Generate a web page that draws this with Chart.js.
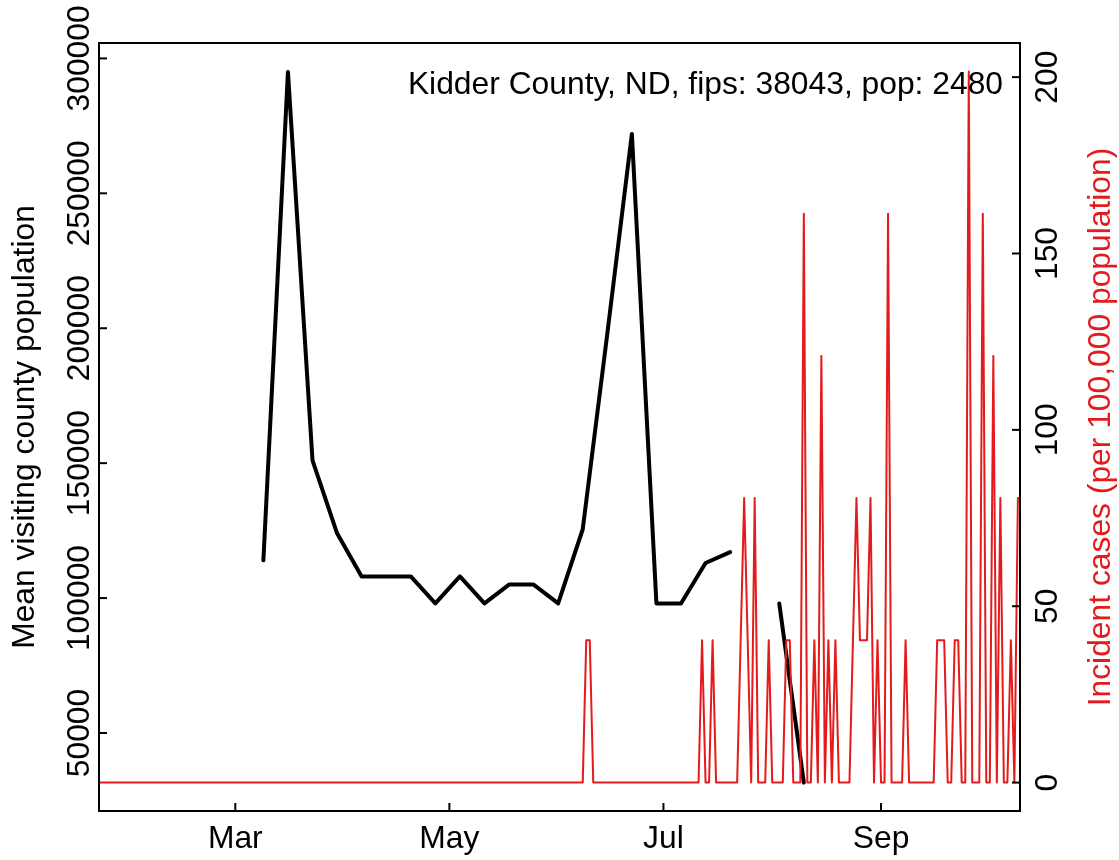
<!DOCTYPE html>
<html><head><meta charset="utf-8">
<script src="https://cdn.jsdelivr.net/npm/chart.js@4/dist/chart.umd.min.js"></script>
<style>html,body{margin:0;padding:0;background:#fff}canvas{display:block}</style>
</head><body>
<canvas id="c" width="1119" height="860" style="width:1119px;height:860px"></canvas>
<script>
// x values are days counted from 1 Jan 2020 (= day 0)
const mobilityDays = [68,75,82,89,96,103,110,117,124,131,138,145,152,159,166,173,180,187,194,201,208,215,222];
const mobilityValues = [114000,295000,151000,124000,108000,108000,108000,98000,108000,98000,105000,105000,98000,125500,198000,272000,98000,98000,113000,117000,null,98000,31600];

// daily incident cases per 100,000 population, one value per day starting at caseStartDay
const caseStartDay = 21;
const caseValues = [
  // days 21-158
  0,0,0,0,0,0,0,0,0,0,0,0,0,0,0,0,0,0,0,0,
  0,0,0,0,0,0,0,0,0,0,0,0,0,0,0,0,0,0,0,0,
  0,0,0,0,0,0,0,0,0,0,0,0,0,0,0,0,0,0,0,0,
  0,0,0,0,0,0,0,0,0,0,0,0,0,0,0,0,0,0,0,0,
  0,0,0,0,0,0,0,0,0,0,0,0,0,0,0,0,0,0,0,0,
  0,0,0,0,0,0,0,0,0,0,0,0,0,0,0,0,0,0,0,0,
  0,0,0,0,0,0,0,0,0,0,0,0,0,0,0,0,0,0,
  // days 159-161
  0,40.32,40.32,
  // days 162-192
  0,0,0,0,0,0,0,0,0,0,0,0,0,0,0,0,0,0,0,0,0,0,0,0,0,0,0,0,0,0,0,
  // days 193-196
  40.32,0,0,40.32,
  // days 197-203
  0,0,0,0,0,0,0,
  // days 204-213
  40.32,80.65,40.32,0,80.65,0,0,0,40.32,0,
  // days 214-223
  0,0,0,40.32,40.32,0,0,0,161.29,0,
  // days 224-233
  0,40.32,0,120.97,0,40.32,0,40.32,0,0,
  // days 234-243
  0,0,40.32,80.65,40.32,40.32,40.32,80.65,0,40.32,
  // days 244-253
  0,0,161.29,0,0,0,0,40.32,0,0,
  // days 254-263
  0,0,0,0,0,0,40.32,40.32,40.32,0,
  // days 264-273
  0,40.32,40.32,0,0,201.61,0,0,0,161.29,
  // days 274-284
  0,0,120.97,0,80.65,0,0,40.32,0,80.65,80.65
];

const monthTickDays = [60,121,182,244];
const monthTickLabels = ['Mar','May','Jul','Sep'];
const leftTicks = [50000,100000,150000,200000,250000,300000];
const rightTicks = [0,50,100,150,200];
const titleText = 'Kidder County, ND, fips: 38043, pop: 2480';
const leftTitle = 'Mean visiting county population';
const rightTitle = 'Incident cases (per 100,000 population)';

const RED = '#E41A1C';
const FONT = '31.8px "Liberation Sans", Arial, Helvetica, sans-serif';

const axesPlugin = {
  id: 'rAxes',
  afterDraw(chart) {
    const ctx = chart.ctx;
    const ca = chart.chartArea;
    const xs = chart.scales.x, yl = chart.scales.y, yr = chart.scales.y2;
    ctx.save();
    ctx.strokeStyle = '#000';
    ctx.lineWidth = 2;
    ctx.strokeRect(ca.left, ca.top, ca.right - ca.left, ca.bottom - ca.top);
    ctx.font = FONT;
    ctx.fillStyle = '#000';
    // x ticks
    ctx.textAlign = 'center';
    ctx.textBaseline = 'alphabetic';
    monthTickDays.forEach((d, i) => {
      const px = xs.getPixelForValue(d);
      ctx.beginPath(); ctx.moveTo(px, ca.bottom); ctx.lineTo(px, ca.bottom - 8); ctx.stroke();
      ctx.fillText(monthTickLabels[i], px, 847.5);
    });
    // left ticks
    leftTicks.forEach(v => {
      const py = yl.getPixelForValue(v);
      ctx.beginPath(); ctx.moveTo(ca.left, py); ctx.lineTo(ca.left + 8, py); ctx.stroke();
      ctx.save(); ctx.translate(88.5, py); ctx.rotate(-Math.PI / 2);
      ctx.fillText(String(v), 0, 0); ctx.restore();
    });
    // right ticks
    rightTicks.forEach(v => {
      const py = yr.getPixelForValue(v);
      ctx.beginPath(); ctx.moveTo(ca.right, py); ctx.lineTo(ca.right - 8, py); ctx.stroke();
      ctx.save(); ctx.translate(1057, py); ctx.rotate(-Math.PI / 2);
      ctx.fillText(String(v), 0, 0); ctx.restore();
    });
    const cy = (ca.top + ca.bottom) / 2;
    // left title
    ctx.save(); ctx.translate(33.5, cy); ctx.rotate(-Math.PI / 2);
    ctx.fillText(leftTitle, 0, 0); ctx.restore();
    // right title
    ctx.save(); ctx.fillStyle = RED; ctx.translate(1110, cy); ctx.rotate(-Math.PI / 2);
    ctx.fillText(rightTitle, 0, 0); ctx.restore();
    // annotation
    ctx.textAlign = 'right';
    ctx.fillText(titleText, 1003, 94);
    ctx.restore();
  }
};

new Chart(document.getElementById('c').getContext('2d'), {
  type: 'line',
  data: {
    datasets: [
      {
        label: 'Incident cases',
        data: caseValues.map((v, i) => ({x: caseStartDay + i, y: v})),
        yAxisID: 'y2', borderColor: RED, borderWidth: 2, pointRadius: 0,
        tension: 0, borderJoinStyle: 'round', order: 0, clip: 0
      },
      {
        label: 'Mean visiting county population',
        data: mobilityDays.map((d, i) => ({x: d, y: mobilityValues[i]})),
        yAxisID: 'y', borderColor: '#000', borderWidth: 4, pointRadius: 0,
        tension: 0, borderJoinStyle: 'round', borderCapStyle: 'round',
        spanGaps: false, order: 1, clip: 0
      }
    ]
  },
  options: {
    responsive: false,
    animation: false,
    events: [],
    layout: {padding: {left: 99, right: 99, top: 43, bottom: 49}},
    plugins: {legend: {display: false}, tooltip: {enabled: false}, title: {display: false}},
    scales: {
      x: {type: 'linear', min: 21.16, max: 283.6, display: false},
      y: {type: 'linear', min: 21081, max: 305710, display: false},
      y2: {type: 'linear', min: -8.064, max: 209.677, display: false}
    }
  },
  plugins: [axesPlugin]
});
</script>
</body></html>
